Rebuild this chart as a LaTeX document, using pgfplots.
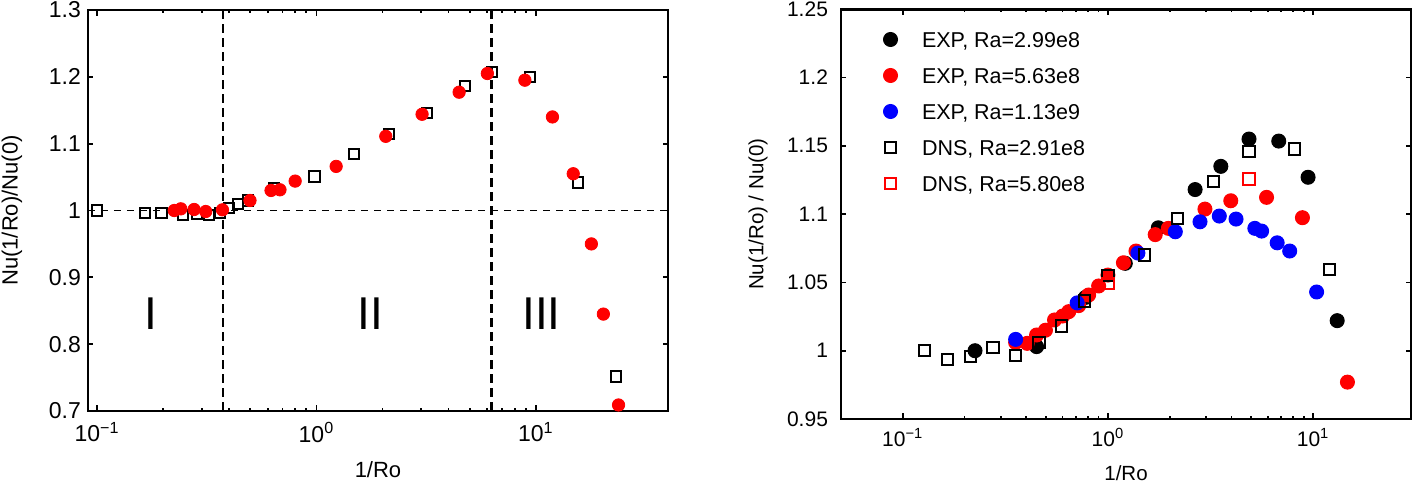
\documentclass[border=0pt]{standalone}
\usepackage{fontspec}
\setmainfont{Liberation Sans}
\usepackage{pgfplots}
\pgfplotsset{compat=1.18}
\newcommand{\legfont}{\fontsize{10.75}{13}\selectfont}
\pgfplotsset{
  mystyle/.style={
    scale only axis,
    tick align=inside,
    xtick pos=both, ytick pos=both,
    axis line style={line width=1.3pt},
    every tick/.style={black, line width=0.9pt},
    major tick length=2.75pt,
    minor tick length=1.5pt,
    xtick={0.1,1,10},
    xticklabels={10\textsuperscript{−1},10\textsuperscript{0},10\textsuperscript{1}},
    clip=false,
  }
}
\begin{document}
\begin{tikzpicture}
\useasboundingbox (0,0) rectangle (706.5pt,243pt);
% ---------------- left panel ----------------
\begin{axis}[xmode=log, mystyle,
  at={(44pt,37.5pt)}, anchor=south west,
  width=290pt, height=200.5pt,
  xmin=0.091, xmax=40, ymin=0.7, ymax=1.3,
  ytick={0.7,0.8,0.9,1,1.1,1.2,1.3},
  yticklabels={0.7,0.8,0.9,1,1.1,1.2,1.3},
  tick label style={font=\fontsize{11.5}{13}\selectfont},
  xticklabel style={yshift=-2pt},
  label style={font=\fontsize{11}{13}\selectfont},
  xlabel={1/Ro}, ylabel={Nu(1/Ro)/Nu(0)},
  xlabel style={at={(axis description cs:0.5,-0.1454)}, anchor=center},
  ylabel style={at={(axis description cs:-0.131,0.5)}, anchor=center},
]
\addplot[black, line width=0.6pt, dash pattern=on 3.5pt off 3pt] coordinates {(0.091,1) (40,1)};
\addplot[black, line width=1.4pt, dash pattern=on 4.5pt off 2.5pt] coordinates {(0.375,0.7) (0.375,1.3)};
\addplot[black, line width=1.4pt, dash pattern=on 4.5pt off 2.5pt] coordinates {(6.3,0.7) (6.3,1.3)};
% DNS squares
\addplot[black, only marks, mark=square, mark size=2.55pt, line width=1pt, mark options={solid, draw=black, fill=none}] coordinates {
(0.1,1.000) (0.165,0.996) (0.197,0.9966) (0.247,0.9936) (0.286,0.995)
(0.325,0.9936) (0.363,0.9966) (0.399,1.004) (0.440,1.010) (0.489,1.015)
(0.643,1.033) (0.98,1.051) (1.48,1.085) (2.14,1.115) (3.19,1.146)
(4.74,1.186) (6.31,1.207) (9.40,1.1996) (15.6,1.042) (23.2,0.7515)
};
% EXP red circles
\addplot[red, only marks, mark=*, mark size=3.1pt, line width=0.4pt, mark options={solid, draw=red, fill=red}] coordinates {
(0.225,1.000) (0.241,1.0025) (0.277,1.0015) (0.313,0.9985) (0.373,1.001)
(0.498,1.015) (0.621,1.030) (0.682,1.031) (0.80,1.044) (1.23,1.066)
(2.07,1.111) (3.03,1.144) (4.47,1.177) (6.01,1.205) (8.91,1.195)
(11.9,1.140) (14.8,1.055) (17.9,0.950) (20.3,0.845) (23.8,0.709)
};
\node[font=\fontsize{23}{25}\selectfont] at (axis cs:0.176,0.846) {I};
\node[font=\fontsize{23}{25}\selectfont] at (axis cs:1.76,0.846) {II};
\node[font=\fontsize{23}{25}\selectfont] at (axis cs:10.6,0.846) {III};
\end{axis}
% ---------------- right panel ----------------
\begin{axis}[xmode=log, mystyle,
  at={(420.5pt,33.5pt)}, anchor=south west,
  width=285pt, height=204.85pt,
  xmin=0.05, xmax=30, ymin=0.95, ymax=1.25,
  ytick={0.95,1,1.05,1.1,1.15,1.2,1.25},
  yticklabels={0.95,1,1.05,1.1,1.15,1.2,1.25},
  tick label style={font=\fontsize{10.5}{12}\selectfont},
  yticklabel style={xshift=-3pt},
  xticklabel style={yshift=-1pt},
  label style={font=\fontsize{10.25}{12}\selectfont},
  xlabel={1/Ro}, ylabel={Nu(1/Ro) / Nu(0)},
  xlabel style={at={(axis description cs:0.5,-0.1318)}, anchor=center},
  ylabel style={at={(axis description cs:-0.1456,0.5)}, anchor=center},
  legend image code/.code={\draw[#1] plot coordinates {(0pt,0.85pt)};},
  legend cell align=left,
  legend style={draw=none, fill=none, at={(0.0746,0.9551)}, anchor=north west,
    inner sep=0pt, outer sep=0pt, row sep=4.5pt, column sep=10.25pt,
    font=\legfont,
    cells={inner sep=0pt, text height=8pt, text depth=2pt}},
]
\addplot[black, only marks, mark=*, mark size=3.5pt, line width=0.5pt, mark options={solid, draw=black, fill=black}] coordinates {
(0.225,1.000) (0.449,1.003) (0.777,1.039) (1.215,1.064) (1.76,1.090) (2.66,1.118)
(3.55,1.135) (4.87,1.155) (6.80,1.1535) (9.45,1.127) (13.1,1.022)
};
\addlegendentry{\legfont EXP, Ra=2.99e8}
\addplot[red, only marks, mark=*, mark size=3.5pt, line width=0.5pt, mark options={solid, draw=red, fill=red}] coordinates {
(0.355,1.006) (0.404,1.0054) (0.449,1.0115) (0.496,1.015) (0.549,1.0225) (0.602,1.0254)
(0.644,1.0286) (0.72,1.033) (0.805,1.0408) (0.901,1.0474) (1.0,1.0554) (1.19,1.0644)
(1.37,1.073) (1.70,1.085) (1.97,1.0896) (2.97,1.1037) (3.97,1.1098) (5.93,1.1123)
(8.87,1.0974) (14.7,0.977)
};
\addlegendentry{\legfont EXP, Ra=5.63e8}
\addplot[blue, only marks, mark=*, mark size=3.5pt, line width=0.5pt, mark options={solid, draw=blue, fill=blue}] coordinates {
(0.355,1.0083) (0.708,1.035) (1.40,1.0715) (2.13,1.0871) (2.81,1.0944) (3.49,1.0986)
(4.21,1.0964) (5.20,1.0896) (5.61,1.0876) (6.68,1.079) (7.69,1.073) (10.4,1.043)
};
\addlegendentry{\legfont EXP, Ra=1.13e9}
\addplot[black, only marks, mark=square, mark size=2.85pt, line width=1pt, mark options={solid, draw=black, fill=none}] coordinates {
(0.128,1.000) (0.165,0.9937) (0.214,0.9956) (0.275,1.0025) (0.355,0.9963) (0.461,1.0059)
(0.592,1.018) (0.768,1.0365) (1.0,1.055) (1.51,1.070) (2.18,1.097) (3.26,1.124)
(4.87,1.1457) (8.14,1.1477) (12.0,1.0596)
};
\addlegendentry{\legfont DNS, Ra=2.91e8}
\addplot[red, only marks, mark=square, mark size=2.85pt, line width=1pt, mark options={solid, draw=red, fill=none}] coordinates {
(1.0,1.049) (4.87,1.1257)
};
\addlegendentry{\legfont DNS, Ra=5.80e8}
\end{axis}
\end{tikzpicture}
\end{document}
